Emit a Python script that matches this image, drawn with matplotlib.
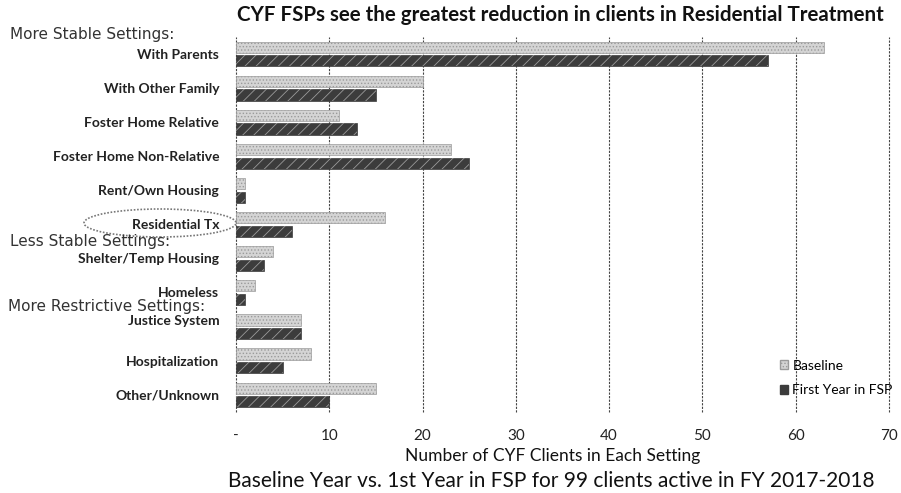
import matplotlib
matplotlib.use("Agg")
import matplotlib.pyplot as plt
from matplotlib.patches import Ellipse, Patch
import numpy as np

categories = ["With Parents", "With Other Family", "Foster Home Relative",
              "Foster Home Non-Relative", "Rent/Own Housing", "Residential Tx",
              "Shelter/Temp Housing", "Homeless", "Justice System",
              "Hospitalization", "Other/Unknown"]
baseline = [63, 20, 11, 23, 1, 16, 4, 2, 7, 8, 15]
first_year = [57, 15, 13, 25, 1, 6, 3, 1, 7, 5, 10]
series_names = ["Baseline", "First Year in FSP"]
x_ticks = [0, 10, 20, 30, 40, 50, 60, 70]
x_tick_labels = ["-", "10", "20", "30", "40", "50", "60", "70"]
section_labels = ["More Stable Settings:", "Less Stable Settings:",
                  "More Restrictive Settings:"]

plt.rcParams['font.family'] = ['Lato', 'DejaVu Sans']
plt.rcParams['hatch.linewidth'] = 0.6
plt.rcParams['hatch.color'] = '#8a8a8a'

W, H = 901, 493
fig = plt.figure(figsize=(W / 100, H / 100), dpi=100)
ax_left, ax_right, ax_top, ax_bot = 236, 889, 37, 412
ax = fig.add_axes([ax_left / W, 1 - ax_bot / H, (ax_right - ax_left) / W, (ax_bot - ax_top) / H])

y = np.arange(len(categories))
h = 0.33
off = 0.2
ax.barh(y - off, baseline, height=h, color='#d4d4d4', edgecolor='#9a9a9a',
        linewidth=0.5, hatch='.....', label=series_names[0], zorder=3)
ax.barh(y + off, first_year, height=h, color='#3c3c3c', edgecolor='#3c3c3c',
        linewidth=0.5, label=series_names[1], zorder=3)
ax.barh(y + off, first_year, height=h, color='none', edgecolor='#9a9a9a',
        linewidth=0, hatch='///', zorder=4)

ax.set_xlim(0, 70)
ax.set_ylim(len(categories) - 0.5, -0.5)
ax.set_xticks(x_ticks)
ax.set_xticklabels(x_tick_labels, fontsize=11, color='#222222')
ax.tick_params(axis='x', length=0, pad=12)
ax.set_yticks([])
for s in ax.spines.values():
    s.set_visible(False)
ls = (0, (2, 1.2))
for xv in x_ticks:
    ax.axvline(xv, color='#444444', linestyle=ls, linewidth=0.8, zorder=1, clip_on=False)

# category labels
label_shift = {"Justice System": -0.2}
for yi, c in zip(y, categories):
    ax.text(-1.8, yi + 0.02 + label_shift.get(c, 0), c, ha='right', va='center',
            fontsize=10, fontweight='bold', color='#222222')

# section labels (figure pixel positions)
sec_pos = [(10, 35), (10, 241), (8, 307)]
for lab, (px, py) in zip(section_labels, sec_pos):
    fig.text(px / W, 1 - py / H, lab, ha='left', va='center',
             fontsize=11, color='#333333', family=['DejaVu Sans'])

# ellipse around Residential Tx
ell = Ellipse((160 / W, 1 - 223 / H), 152 / W, 28 / H, transform=fig.transFigure,
              fill=False, edgecolor='#777777', linestyle=(0, (1, 1)), linewidth=1.2)
fig.patches.append(ell)

fig.text(560 / W, 1 - 15 / H,
         "CYF FSPs see the greatest reduction in clients in Residential Treatment",
         ha='center', va='center', fontsize=14.8, fontweight='bold', color='#111111')
fig.text(553 / W, 1 - 456 / H, "Number of CYF Clients in Each Setting",
         ha='center', va='center', fontsize=12.5, color='#111111')
fig.text(551 / W, 1 - 481 / H,
         "Baseline Year vs. 1st Year in FSP for 99 clients active in FY 2017-2018",
         ha='center', va='center', fontsize=15, color='#111111')

handles = [Patch(facecolor='#d4d4d4', edgecolor='#9a9a9a', hatch='.....'),
           Patch(facecolor='#3c3c3c', edgecolor='#3c3c3c')]
fig.legend(handles, series_names, loc='center left',
           bbox_to_anchor=(780 / W, 1 - 378 / H), frameon=False, fontsize=10,
           handlelength=0.6, handleheight=0.6, handletextpad=0.3, labelspacing=0.9,
           borderpad=0, borderaxespad=0)

fig.savefig("out.png", dpi=100)
